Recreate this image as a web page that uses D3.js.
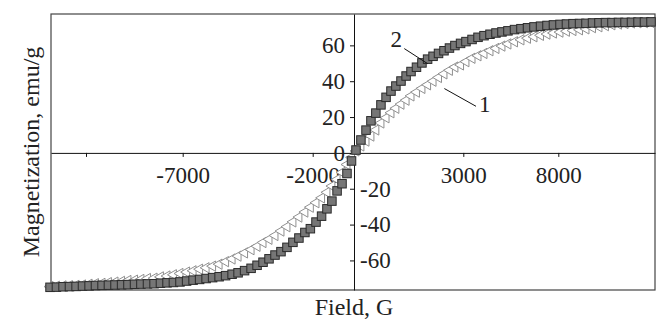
<!DOCTYPE html>
<html>
<head>
<meta charset="utf-8">
<script src="https://cdn.jsdelivr.net/npm/d3@7"></script>
<style>
  body { margin: 0; background: #fff; }
  text { font-family: "Liberation Serif", "Times New Roman", serif; fill: #222; }
</style>
</head>
<body>
<div id="chart"></div>
<script>
// field sweep, G (same field points for both samples)
const field = [
  -13850, -13520, -13180, -12850, -12510, -12180,
  -11840, -11510, -11170, -10840, -10500, -10160, -9830, -9490, -9160, -8820, -8480, -8150, -7810, -7480, -7140,
  -6850, -6600, -6350, -6100, -5850, -5600, -5350, -5100, -4870, -4620, -4370, -4140, -3910, -3680, -3450, -3220,
  -2990, -2760, -2530, -2300, -2090,
  -1840, -1570, -1310, -1070, -820, -580, -340, -120,
  55, 190, 330, 465, 600, 740, 880, 1015, 1150, 1290, 1430, 1565, 1715, 1865, 2020, 2170, 2320, 2470, 2620, 2770, 2925,
  3140, 3460, 3775, 4090, 4405, 4720, 5035, 5350, 5695, 6035, 6380, 6720, 7065, 7405, 7745,
  8090, 8430, 8775, 9120, 9460, 9805, 10145, 10490, 10830, 11175, 11520, 11860, 12205, 12545, 12890
];

// sample 1 (open triangles), emu/g
const magn1 = [
  -74.6, -74.4, -74.2, -74.1, -73.9, -73.7,
  -73.3, -73.0, -72.8, -72.4, -72.1, -71.7, -71.2, -71.0, -70.6, -70.1, -69.9, -69.2, -68.7, -68.0, -67.3,
  -66.5, -65.8, -64.9, -64.1, -63.2, -62.1, -60.7, -59.2, -57.6, -55.8, -54.0, -52.1, -50.0, -48.2, -46.1, -43.6,
  -41.2, -38.5, -35.8, -33.0, -30.3,
  -27.8, -25.1, -22.0, -18.5, -14.8, -10.9, -6.5, -2.5,
  1.1, 3.9, 6.6, 9.4, 12.8, 16.7, 19.6, 22.4, 24.9, 27.2, 29.4, 31.8, 33.9, 36.0, 38.0, 40.0, 42.1, 44.1, 46.1, 47.9, 49.1,
  50.9, 52.8, 54.2, 55.5, 57.0, 58.3, 59.6, 60.8, 62.0, 63.1, 64.0, 64.8, 65.6, 66.3, 66.9,
  67.4, 67.9, 68.3, 68.7, 69.2, 69.9, 70.4, 71.0, 71.5, 71.9, 72.2, 72.5, 72.6, 72.7, 72.8
];

// sample 2 (grey squares), emu/g
const magn2 = [
  -75.0, -74.9, -74.7, -74.6, -74.5, -74.3,
  -74.2, -74.0, -73.9, -73.8, -73.7, -73.6, -73.5, -73.3, -73.2, -73.1, -73.0, -72.7, -72.5, -72.3, -72.0,
  -71.5, -71.0, -70.6, -70.1, -69.6, -69.1, -68.5, -67.7, -66.9, -65.7, -64.4, -62.7, -61.0, -59.1, -57.0, -55.1,
  -52.7, -49.9, -47.5, -44.4, -42.3,
  -38.6, -35.3, -31.2, -26.9, -21.2, -17.2, -11.5, -4.5,
  1.6, 7.2, 12.7, 17.9, 22.2, 26.8, 31.0, 34.5, 37.3, 40.1, 42.9, 45.4, 47.8, 50.2, 52.3, 53.9, 55.5, 57.0, 58.5, 59.9, 61.1,
  62.1, 63.3, 64.5, 65.4, 66.2, 66.9, 67.5, 68.1, 68.8, 69.3, 69.8, 70.3, 70.7, 71.1, 71.4,
  71.7, 71.9, 72.1, 72.2, 72.3, 72.5, 72.6, 72.7, 72.7, 72.8, 72.8, 72.9, 73.0, 73.0, 73.1
];

const xTickValues = [-12000, -7000, -2000, 3000, 8000];
const xTickLabels = ["", "-7000", "-2000", "3000", "8000"];
const yTickValues = [-60, -40, -20, 0, 20, 40, 60];
const yTickLabels = ["-60", "-40", "-20", "0", "20", "40", "60"];

// curve labels with their leader lines: [field, magn]
const curveLabels = [
  { text: "2", at: [1000, 59.1], from: [1380, 58.2], to: [2020, 49.8] },
  { text: "1", at: [3830, 22.6], from: [2480, 35.9], to: [3670, 26.0] }
];

const W = 662, H = 320;
const svg = d3.select("#chart").append("svg")
  .attr("width", W)
  .attr("height", H);

// the printed field axis is not evenly spaced, so map it piece by piece
const x = d3.scaleLinear()
  .domain([-13800, -12000, -7000, -2000, 0, 3000, 8000, 13100])
  .range([51, 86, 182.7, 312.7, 354, 463.3, 558.3, 655]);

const y = d3.scaleLinear()
  .domain([-76.5, 77.5])
  .range([290, 14]);

const [x0, x1] = [x.range()[0], x.range()[x.range().length - 1]];
const [y0, y1] = y.range();

// plot frame
svg.append("rect")
  .attr("x", x0)
  .attr("y", y1)
  .attr("width", x1 - x0)
  .attr("height", y0 - y1)
  .attr("fill", "none")
  .attr("stroke", "#444")
  .attr("stroke-width", 1.2);

// x axis through M = 0
const gx = svg.append("g")
  .attr("transform", `translate(0,${y(0)})`)
  .call(d3.axisBottom(x)
    .tickValues(xTickValues)
    .tickSize(4)
    .tickSizeOuter(0)
    .tickPadding(10)
    .tickFormat((d, i) => xTickLabels[i]));

// y axis through H = 0
const gy = svg.append("g")
  .attr("transform", `translate(${x(0)},0)`)
  .call(d3.axisLeft(y)
    .tickValues(yTickValues)
    .tickSize(4)
    .tickSizeOuter(0)
    .tickPadding(5)
    .tickFormat((d, i) => yTickLabels[i]));

// negative labels sit on the right of the axis
gy.selectAll(".tick text")
  .filter(d => d < 0)
  .attr("x", 6)
  .attr("text-anchor", "start");

[gx, gy].forEach(g => {
  g.attr("font-family", null).attr("font-size", null);
  g.selectAll("text").style("font-size", "23px");
  g.select(".domain").attr("stroke", "#111");
  g.selectAll(".tick line").attr("stroke", "#111");
});

// sample 1: open left-pointing triangles
svg.append("g")
  .selectAll("path")
  .data(d3.zip(field, magn1))
  .join("path")
    .attr("transform", d => `translate(${x(d[0])},${y(d[1])}) rotate(-90)`)
    .attr("d", d3.symbol(d3.symbolTriangle, 46))
    .attr("fill", "#fff")
    .attr("stroke", "#909090")
    .attr("stroke-width", 1);

// sample 2: grey squares
const sq = 8.5;
svg.append("g")
  .selectAll("rect")
  .data(d3.zip(field, magn2))
  .join("rect")
    .attr("x", d => x(d[0]) - sq / 2)
    .attr("y", d => y(d[1]) - sq / 2)
    .attr("width", sq)
    .attr("height", sq)
    .attr("fill", "#767676")
    .attr("stroke", "#2a2a2a")
    .attr("stroke-width", 1);

// curve numbers
const ann = svg.append("g");
ann.selectAll("line")
  .data(curveLabels)
  .join("line")
    .attr("x1", d => x(d.from[0]))
    .attr("y1", d => y(d.from[1]))
    .attr("x2", d => x(d.to[0]))
    .attr("y2", d => y(d.to[1]))
    .attr("stroke", "#111")
    .attr("stroke-width", 1);
ann.selectAll("text")
  .data(curveLabels)
  .join("text")
    .attr("x", d => x(d.at[0]))
    .attr("y", d => y(d.at[1]))
    .style("font-size", "23px")
    .text(d => d.text);

// axis titles
svg.append("text")
  .attr("x", x(0))
  .attr("y", 315)
  .attr("text-anchor", "middle")
  .style("font-size", "24px")
  .text("Field, G");

svg.append("text")
  .attr("transform", `translate(39,${(y0 + y1) / 2}) rotate(-90)`)
  .attr("text-anchor", "middle")
  .style("font-size", "24px")
  .text("Magnetization, emu/g");
</script>
</body>
</html>
